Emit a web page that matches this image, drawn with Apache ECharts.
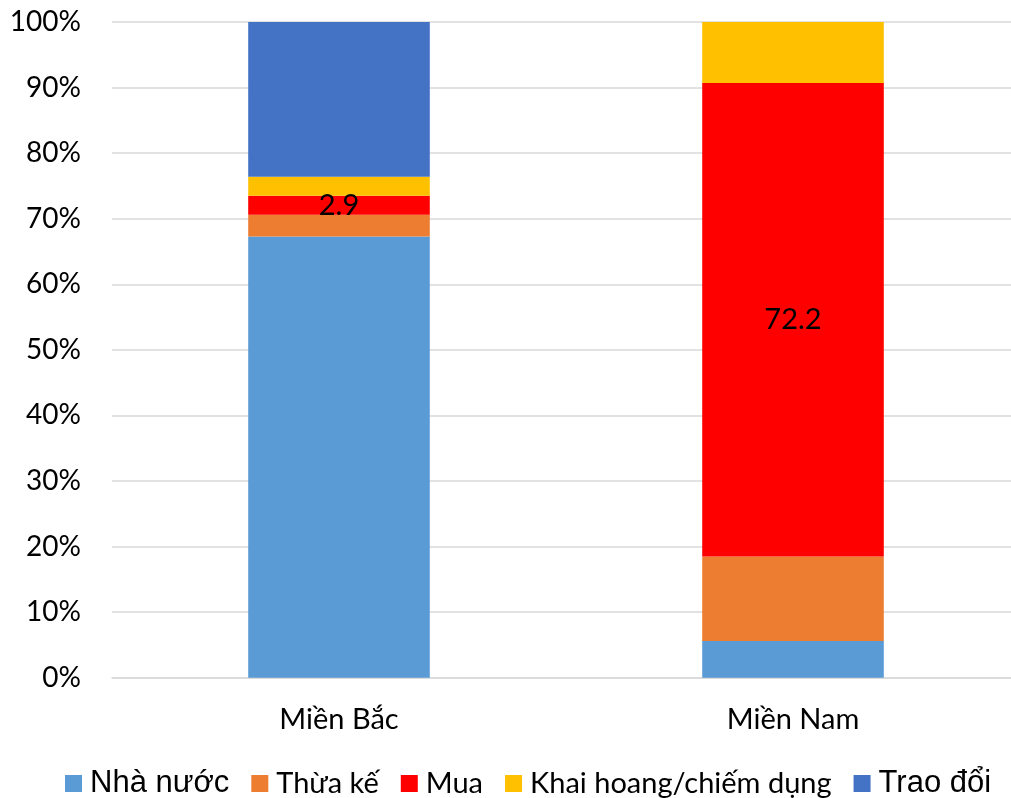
<!DOCTYPE html>
<html>
<head>
<meta charset="utf-8">
<script src="https://cdn.jsdelivr.net/npm/echarts@6/dist/echarts.min.js"></script>
<style>
  html, body { margin: 0; padding: 0; background: #fff; overflow: hidden; }
  /* canvas is a little wider than the window: the plot area runs past the right edge */
  #chart { width: 1020px; height: 798px; }
</style>
</head>
<body>
<div id="chart"></div>
<script>
// Regions on the x axis
const regions = ['Miền Bắc', 'Miền Nam'];

// Share of land origin per region (%)
const nhaNuoc   = [67.3, 5.6];
const thuaKe    = [3.3, 12.9];
const mua       = [2.9, 72.2];
const khaiHoang = [2.9, 9.3];
const traoDoi   = [23.6, 0];

const seriesNames = ['Nhà nước', 'Thừa kế', 'Mua', 'Khai hoang/chiếm dụng', 'Trao đổi'];
const seriesData = [nhaNuoc, thuaKe, mua, khaiHoang, traoDoi];
const colors = ['#5B9BD5', '#ED7D31', '#FF0000', '#FFC000', '#4472C4'];
const bigLegend = { 'Nhà nước': true, 'Trao đổi': true };

const font = 'Lato, "Open Sans", "DejaVu Sans", sans-serif';
const bigFont = '"Liberation Sans", Arial, sans-serif';

const chart = echarts.init(document.getElementById('chart'), null, { renderer: 'canvas' });

chart.setOption({
  animation: false,
  color: colors,
  textStyle: { fontFamily: font },
  grid: { left: 112, right: 0, top: 22, bottom: 120.3, containLabel: false },
  xAxis: {
    type: 'category',
    data: regions,
    axisLine: { show: true, lineStyle: { color: '#d9d9d9', width: 1.5 } },
    axisTick: { show: false },
    axisLabel: { color: '#000', fontSize: 29, fontFamily: font, margin: 27 }
  },
  yAxis: {
    type: 'value',
    min: 0,
    max: 100,
    interval: 10,
    axisLine: { show: false },
    axisTick: { show: false },
    splitLine: { lineStyle: { color: '#d9d9d9', width: 1.5 } },
    axisLabel: { color: '#000', fontSize: 28, fontFamily: font, margin: 31, formatter: '{value}%' }
  },
  legend: {
    top: 763,
    left: 60,
    itemWidth: 17,
    itemHeight: 17,
    itemGap: 22,
    icon: 'rect',
    data: seriesNames,
    formatter: function (name) {
      return bigLegend[name] ? '{big|' + name + '}' : '{small|' + name + '}';
    },
    textStyle: {
      color: '#000',
      fontFamily: font,
      padding: [0, 0, 0, 3],
      rich: {
        big: { fontSize: 31, fontFamily: bigFont, color: '#000' },
        small: { fontSize: 29, fontFamily: font, color: '#000' }
      }
    }
  },
  series: seriesNames.map(function (name, i) {
    return {
      name: name,
      type: 'bar',
      stack: 'total',
      barWidth: '40%',
      data: seriesData[i],
      label: {
        show: name === 'Mua',
        position: 'inside',
        color: '#000',
        fontSize: 29,
        fontFamily: font
      }
    };
  })
});
</script>
</body>
</html>
